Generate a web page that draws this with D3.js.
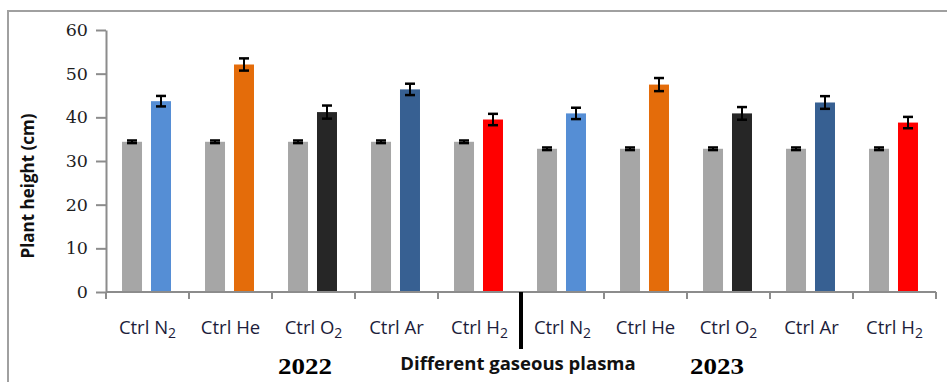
<!DOCTYPE html>
<html>
<head>
<meta charset="utf-8">
<script src="https://cdn.jsdelivr.net/npm/d3@7"></script>
<style>
  html, body { margin: 0; padding: 0; background: #fff; overflow: hidden; }
  svg { display: block; }
</style>
</head>
<body>
<svg id="chart" width="947" height="382"></svg>
<script>
// Plant height (cm) by gaseous plasma treatment, 2022 and 2023
const categories = ["N2-2022", "He-2022", "O2-2022", "Ar-2022", "H2-2022",
                    "N2-2023", "He-2023", "O2-2023", "Ar-2023", "H2-2023"];
const gasLabels = [["N", "2"], ["He", ""], ["O", "2"], ["Ar", ""], ["H", "2"],
                   ["N", "2"], ["He", ""], ["O", "2"], ["Ar", ""], ["H", "2"]];
const ctrlValues = [34.4, 34.4, 34.4, 34.4, 34.4, 32.8, 32.8, 32.8, 32.8, 32.8];
const ctrlErrors = [0.3, 0.3, 0.3, 0.3, 0.3, 0.3, 0.3, 0.3, 0.3, 0.3];
const gasValues = [43.7, 52.1, 41.2, 46.4, 39.5, 40.9, 47.5, 40.9, 43.4, 38.8];
const gasErrors = [1.2, 1.4, 1.5, 1.3, 1.3, 1.3, 1.5, 1.45, 1.45, 1.3];
const gasColors = ["#558ED5", "#E46C0A", "#262626", "#376092", "#FF0000",
                   "#558ED5", "#E46C0A", "#262626", "#376092", "#FF0000"];
const ctrlColor = "#A6A6A6";
const yTicks = [0, 10, 20, 30, 40, 50, 60];
const yearLabels = ["2022", "2023"];

const svg = d3.select("#chart");

// outer frame
svg.append("rect")
  .attr("x", 8).attr("y", 11)
  .attr("width", 1200).attr("height", 1200)
  .attr("fill", "none").attr("stroke", "#A0A0A0").attr("stroke-width", 2);

const plot = { left: 106, right: 936, top: 30, bottom: 292 };

const x = d3.scaleBand().domain(categories).range([plot.left, plot.right]).padding(0);
const y = d3.scaleLinear().domain([0, 60]).range([plot.bottom, plot.top]);
const inner = d3.scaleBand().domain(["ctrl", "gas"])
  .range([x.bandwidth() * 0.193, x.bandwidth() * 0.783])
  .paddingInner(0.31).paddingOuter(0);

const axisColor = "#8C8C8C";

// y axis
const yAxis = svg.append("g")
  .attr("transform", `translate(${plot.left},0)`)
  .call(d3.axisLeft(y).tickValues(yTicks).tickSize(10).tickPadding(8).tickSizeOuter(0));
yAxis.select(".domain").attr("stroke", axisColor).attr("stroke-width", 2);
yAxis.selectAll(".tick line").attr("stroke", axisColor).attr("stroke-width", 2);
yAxis.selectAll(".tick text")
  .attr("font-family", "'DejaVu Serif', serif")
  .attr("font-size", 17.5).attr("fill", "#1e1e1e");

// bars
const groups = svg.append("g").selectAll("g")
  .data(categories)
  .join("g")
  .attr("transform", d => `translate(${x(d)},0)`);

groups.append("rect")
  .attr("x", inner("ctrl")).attr("width", inner.bandwidth())
  .attr("y", (d, i) => y(ctrlValues[i]))
  .attr("height", (d, i) => y(0) - y(ctrlValues[i]))
  .attr("fill", ctrlColor);

groups.append("rect")
  .attr("x", inner("gas")).attr("width", inner.bandwidth())
  .attr("y", (d, i) => y(gasValues[i]))
  .attr("height", (d, i) => y(0) - y(gasValues[i]))
  .attr("fill", (d, i) => gasColors[i]);

// error bars
function errorBar(sel, key, vals, errs) {
  const cx = inner(key) + inner.bandwidth() / 2;
  const capW = 5;
  sel.append("line")
    .attr("x1", cx).attr("x2", cx)
    .attr("y1", (d, i) => y(vals[i] + errs[i]))
    .attr("y2", (d, i) => y(vals[i] - errs[i]))
    .attr("stroke", "#000").attr("stroke-width", 2);
  [1, -1].forEach(s => {
    sel.append("line")
      .attr("x1", cx - capW).attr("x2", cx + capW)
      .attr("y1", (d, i) => y(vals[i] + s * errs[i]))
      .attr("y2", (d, i) => y(vals[i] + s * errs[i]))
      .attr("stroke", "#000").attr("stroke-width", 2.5);
  });
}
errorBar(groups, "ctrl", ctrlValues, ctrlErrors);
errorBar(groups, "gas", gasValues, gasErrors);

// x axis
const xAxis = svg.append("g").attr("transform", `translate(0,${plot.bottom})`);
xAxis.append("line")
  .attr("x1", plot.left).attr("x2", plot.right)
  .attr("y1", 0).attr("y2", 0)
  .attr("stroke", axisColor).attr("stroke-width", 2);
const boundaries = categories.map(c => x(c)).concat([x(categories[categories.length - 1]) + x.bandwidth()]);
xAxis.selectAll("line.tk").data(boundaries).join("line")
  .attr("class", "tk")
  .attr("x1", d => d).attr("x2", d => d)
  .attr("y1", 0).attr("y2", 7)
  .attr("stroke", axisColor).attr("stroke-width", 2);

// category labels: "Ctrl Gas" with subscripts
const lbl = svg.append("g").selectAll("text")
  .data(categories)
  .join("text")
  .attr("x", d => x(d) + x.bandwidth() / 2)
  .attr("y", 334)
  .attr("text-anchor", "middle")
  .attr("font-family", "'Open Sans', sans-serif")
  .attr("font-size", 18.5)
  .attr("fill", "#1c1c3a");
lbl.append("tspan").text(d => "Ctrl " + gasLabels[categories.indexOf(d)][0]);
lbl.filter(d => gasLabels[categories.indexOf(d)][1] !== "")
  .append("tspan")
  .attr("dy", 4)
  .attr("font-size", 14)
  .text(d => gasLabels[categories.indexOf(d)][1]);

// separator between the two years
svg.append("line")
  .attr("x1", x(categories[5])).attr("x2", x(categories[5]))
  .attr("y1", plot.bottom).attr("y2", 349)
  .attr("stroke", "#000").attr("stroke-width", 4);

// year labels
svg.selectAll("text.year").data(yearLabels).join("text")
  .attr("class", "year")
  .attr("x", (d, i) => i === 0 ? 278 : 690)
  .attr("y", 374)
  .attr("font-family", "'Liberation Serif', serif")
  .attr("font-weight", "bold")
  .attr("font-size", 24)
  .attr("textLength", 54)
  .attr("lengthAdjust", "spacingAndGlyphs")
  .attr("fill", "#000")
  .text(d => d);

// axis titles
svg.append("text")
  .attr("x", 518).attr("y", 370)
  .attr("text-anchor", "middle")
  .attr("font-family", "'Open Sans', sans-serif")
  .attr("font-weight", "bold")
  .attr("font-size", 18.5)
  .attr("fill", "#111")
  .text("Different gaseous plasma");

svg.append("text")
  .attr("transform", "translate(34,186) rotate(-90)")
  .attr("text-anchor", "middle")
  .attr("font-family", "'Open Sans', sans-serif")
  .attr("font-weight", "bold")
  .attr("font-size", 17)
  .attr("fill", "#111")
  .text("Plant height (cm)");
</script>
</body>
</html>
